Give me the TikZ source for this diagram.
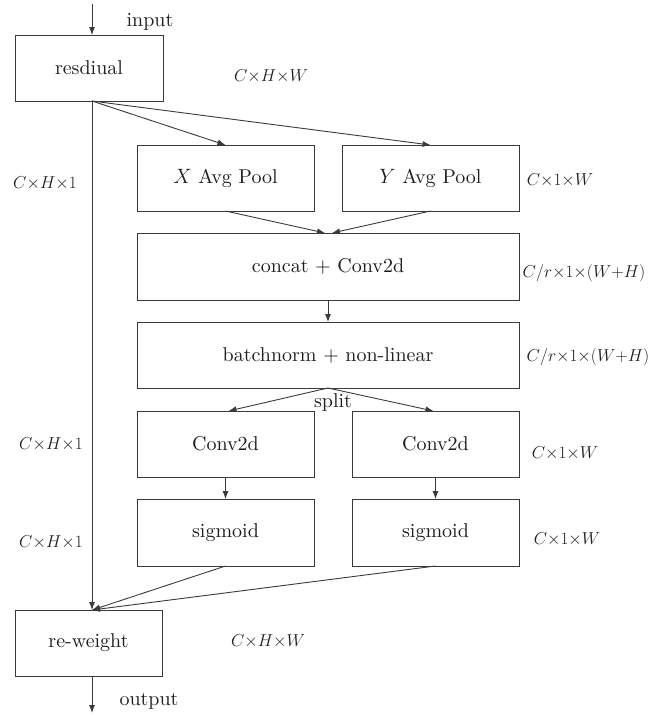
\documentclass[tikz,border=0pt]{standalone}
\usepackage{fontspec}
\setmainfont{lmroman10-regular}[Extension=.otf, ItalicFont=lmroman10-italic, BoldFont=lmroman10-bold]
\usetikzlibrary{arrows.meta}
\definecolor{ln}{HTML}{3A3A3A}
\definecolor{tx}{HTML}{1E1E1E}
\begin{document}
\begin{tikzpicture}[x=1pt,y=-1pt,
  box/.style={draw=ln,line width=0.9pt,rectangle,inner sep=0pt,outer sep=0pt,
    text=tx,font=\fontsize{20}{24}\selectfont},
  lbl/.style={inner sep=0pt,text=tx,font=\fontsize{17}{20}\selectfont},
  txt/.style={inner sep=0pt,text=tx,font=\fontsize{20}{24}\selectfont},
  conn/.style={draw=ln,line width=0.9pt},
  arr/.style={conn,-{Latex[length=8pt,width=6pt]}}]
\useasboundingbox (0,0) rectangle (669,716);
% boxes
\node[box,minimum width=148pt,minimum height=66pt] (res) at (89,68) {resdiual};
\node[box,minimum width=177pt,minimum height=66pt] (xap) at (225.5,178) {$X$ Avg Pool};
\node[box,minimum width=177pt,minimum height=66pt] (yap) at (430.5,178) {$Y$ Avg Pool};
\node[box,minimum width=382pt,minimum height=67pt] (cat) at (328,266.5) {concat + Conv2d};
\node[box,minimum width=382pt,minimum height=66pt] (bn) at (328,355) {batchnorm + non-linear};
\node[box,minimum width=177pt,minimum height=66pt] (cl) at (225.5,444) {Conv2d};
\node[box,minimum width=167pt,minimum height=66pt] (cr) at (435.5,444) {Conv2d};
\node[box,minimum width=177pt,minimum height=67pt] (sl) at (225.5,532.5) {sigmoid};
\node[box,minimum width=167pt,minimum height=67pt] (sr) at (435.5,532.5) {sigmoid};
\node[box,minimum width=147pt,minimum height=66pt] (rw) at (88.5,643) {re-weight};
% coordinates
\coordinate (in0) at (92,4);
\coordinate (rt) at (92,101);
\coordinate (rb) at (92,610);
\coordinate (out1) at (92,713);
% labels
\node[txt] (linput) at (150,22) {input};
\node[txt] (loutput) at (149,701) {output};
\node[txt] (lsplit) at (333,402) {split};
\node[lbl] (d1) at (271,76) {$C{\times}H{\times}W$};
\node[lbl] (d2) at (45,183) {$C{\times}H{\times}1$};
\node[lbl] (d3) at (560,180) {$C{\times}1{\times}W$};
\node[lbl] (d4) at (584,273) {$C/r{\times}1{\times}(W{+}H)$};
\node[lbl] (d5) at (588,357) {$C/r{\times}1{\times}(W{+}H)$};
\node[lbl] (d6) at (51,444) {$C{\times}H{\times}1$};
\node[lbl] (d7) at (565,453) {$C{\times}1{\times}W$};
\node[lbl] (d8) at (51,542) {$C{\times}H{\times}1$};
\node[lbl] (d9) at (567,539) {$C{\times}1{\times}W$};
\node[lbl] (d10) at (268,641) {$C{\times}H{\times}W$};
% connectors
\draw[arr] (in0) -- ([xshift=3pt]res.north);
\draw[arr] (rt) -- (rb);
\draw[arr] (rt) -- (xap.north);
\draw[arr] (rt) -- (yap.north);
\draw[arr] (xap.south) -- ([xshift=-3pt]cat.north);
\draw[arr] (yap.south) -- ([xshift=4pt]cat.north);
\draw[arr] (cat.south) -- (bn.north);
\draw[arr] (bn.south) -- ([xshift=3pt]cl.north);
\draw[arr] (bn.south) -- ([xshift=-2pt]cr.north);
\draw[arr] (cl.south) -- (sl.north);
\draw[arr] (cr.south) -- (sr.north);
\draw[arr] (sl.south) -- (rb);
\draw[arr] (sr.south) -- (rb);
\draw[arr] ([xshift=3.5pt]rw.south) -- (out1);
\end{tikzpicture}
\end{document}
